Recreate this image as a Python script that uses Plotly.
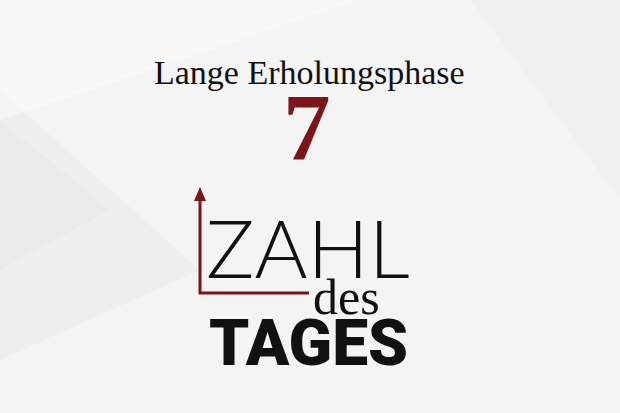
import plotly.graph_objects as go

# texts of the card
headline = 'Lange Erholungsphase'
number = '7'
logo_words = ['ZAHL', 'des', 'TAGES']

# colours
dark_red = '#7a1518'
ink = '#111111'

W, H = 620, 413

fig = go.Figure()

# faint grey shading on the background
streaks = [
    'M 0 90 L 200 270 L 0 360 Z',
    'M 0 120 L 110 210 L 0 270 Z',
    'M 470 0 L 620 0 L 620 200 Z',
    'M 0 0 L 360 0 L 0 120 Z',
    'M 230 120 L 430 120 L 430 390 L 230 390 Z',
]
streak_fill = ['rgba(190,190,190,0.08)', 'rgba(180,180,180,0.07)',
               'rgba(200,200,200,0.06)', 'rgba(255,255,255,0.4)', 'rgba(255,255,255,0.0)']

shapes = []
for p, c in zip(streaks, streak_fill):
    shapes.append(dict(type='path', path=p, fillcolor=c, line=dict(width=0), layer='below'))

# arrow of the logo
shapes.append(dict(type='line', x0=200, y0=198, x1=200, y1=294,
                   line=dict(color=dark_red, width=3)))
shapes.append(dict(type='line', x0=199, y0=293, x1=309, y1=293,
                   line=dict(color=dark_red, width=3)))
shapes.append(dict(type='path', path='M 194 201 L 200 187 L 206 201 Z',
                   fillcolor=dark_red, line=dict(width=0)))

annotations = [
    dict(x=309, y=72, text=headline,
         font=dict(family='Liberation Serif', size=34, color=ink)),
    dict(x=307, y=128, text=number,
         font=dict(family='Liberation Serif', size=95, color=dark_red, weight='bold')),
    dict(x=308, y=246, text=logo_words[0],
         font=dict(family='Lato', size=81, color=ink, weight=300)),
    dict(x=346, y=297, text=logo_words[1],
         font=dict(family='Liberation Serif', size=50, color=ink)),
    dict(x=308, y=343, text=logo_words[2],
         font=dict(family='Roboto', size=64, color=ink, weight=900)),
]
for a in annotations:
    a.update(xref='x', yref='y', showarrow=False, xanchor='center', yanchor='middle')

fig.update_layout(
    width=W, height=H,
    margin=dict(l=0, r=0, t=0, b=0),
    paper_bgcolor='#f4f4f4',
    plot_bgcolor='rgba(0,0,0,0)',
    xaxis=dict(range=[0, W], visible=False, fixedrange=True),
    yaxis=dict(range=[H, 0], visible=False, fixedrange=True),
    shapes=shapes,
    annotations=annotations,
    showlegend=False,
)

fig.write_html('out.html', config={'displayModeBar': False},
               post_script="document.body.style.margin='0';")
